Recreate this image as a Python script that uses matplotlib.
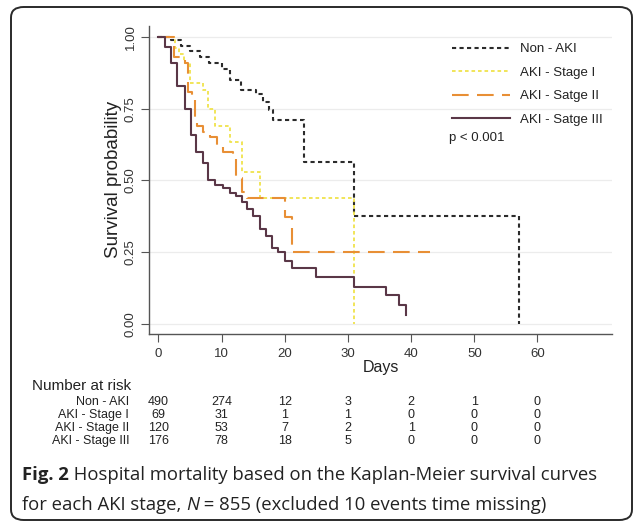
import numpy as np
import matplotlib
matplotlib.use('Agg')
import matplotlib.pyplot as plt
from matplotlib.patches import FancyBboxPatch
from matplotlib.transforms import blended_transform_factory

# Kaplan-Meier steps (days, survival)
t_non = [0, 2, 3.5, 5, 6.5, 8, 10, 11.3, 13, 15.5, 16.5, 17.5, 18.2, 23, 31, 57]
s_non = [1.0, 0.99, 0.97, 0.95, 0.93, 0.91, 0.89, 0.85, 0.815, 0.80, 0.775, 0.745, 0.71, 0.565, 0.375, 0.0]

t_st1 = [0, 2.6, 3.2, 4, 5, 7, 7.8, 9, 11.3, 13.2, 16, 31]
s_st1 = [1.0, 0.96, 0.94, 0.91, 0.84, 0.815, 0.75, 0.69, 0.635, 0.53, 0.44, 0.0]

t_st2 = [0, 2.5, 4.2, 4.6, 5.3, 5.8, 6.1, 7, 8.1, 9.2, 10.2, 11.8, 12.2, 13.2, 14, 20, 21.1, 43]
s_st2 = [1.0, 0.93, 0.91, 0.81, 0.78, 0.72, 0.69, 0.67, 0.65, 0.62, 0.60, 0.58, 0.51, 0.46, 0.44, 0.373, 0.25, 0.25]

t_st3 = [0, 1, 2, 3, 4.2, 5.1, 6, 7, 7.8, 8.9, 10.2, 11.3, 12.3, 13.2, 14, 15, 16, 17.1, 17.9, 19, 20, 21.1, 25, 31, 36, 38, 39.2]
s_st3 = [1.0, 0.965, 0.91, 0.83, 0.75, 0.66, 0.60, 0.56, 0.50, 0.485, 0.475, 0.455, 0.445, 0.425, 0.40, 0.375, 0.33, 0.305,
         0.265, 0.25, 0.22, 0.195, 0.165, 0.13, 0.10, 0.066, 0.03]

labels = ['Non - AKI', 'AKI - Stage I', 'AKI - Satge II', 'AKI - Satge III']
risk_labels = ['Non - AKI', 'AKI - Stage I', 'AKI - Stage II', 'AKI - Stage III']
risk_days = [0, 10, 20, 30, 40, 50, 60]
risk_non = [490, 274, 12, 3, 2, 1, 0]
risk_st1 = [69, 31, 1, 1, 0, 0, 0]
risk_st2 = [120, 53, 7, 2, 1, 0, 0]
risk_st3 = [176, 78, 18, 5, 0, 0, 0]

plt.rcParams['font.family'] = ['Liberation Sans', 'DejaVu Sans']

W, H = 634, 525
fig = plt.figure(figsize=(W / 100, H / 100), dpi=100)

# rounded frame around the whole figure
fig.patches.append(FancyBboxPatch((11 / W, 5 / H), 621 / W, 513 / H,
                                  boxstyle='round,pad=0,rounding_size=0.02',
                                  transform=fig.transFigure, fill=False,
                                  ec='#2a2a2a', lw=1.4))

ax = fig.add_axes([149 / W, 191 / H, 463 / W, 308.5 / H])

ax.step(t_non, s_non, where='post', color='#2b2b2b', lw=1.5, dashes=(2, 1.6), label=labels[0])
ax.step(t_st1, s_st1, where='post', color='#f0e34c', lw=1.3, dashes=(2, 1.6), label=labels[1])
ax.step(t_st2, s_st2, where='post', color='#e88f35', lw=1.5, dashes=(8, 4), label=labels[2])
ax.step(t_st3, s_st3, where='post', color='#5a3747', lw=1.5, label=labels[3])

ax.set_xlim(-1.5, 71.8)
ax.set_ylim(-0.035, 1.04)
ax.set_xticks([0, 10, 20, 30, 40, 50, 60])
ax.set_yticks([0, 0.25, 0.5, 0.75, 1.0])
ax.set_yticklabels(['0.00', '0.25', '0.50', '0.75', '1.00'], rotation=90, va='center')
ax.yaxis.grid(True, color='#ececec', lw=0.9)
ax.set_axisbelow(True)
for sp in ['top', 'right']:
    ax.spines[sp].set_visible(False)
for sp in ['left', 'bottom']:
    ax.spines[sp].set_color('#555555')
    ax.spines[sp].set_linewidth(1.0)
ax.tick_params(direction='out', length=6, color='#555555', labelsize=9.5, labelcolor='#333333')
ax.tick_params(axis='x', pad=4)
ax.tick_params(axis='y', pad=3)
ax.set_xlabel('Days', fontsize=11.5, labelpad=0, color='#222222')
ax.set_ylabel('Survival probability', fontsize=13.5, labelpad=2, color='#222222')

leg = fig.legend(loc='upper left', bbox_to_anchor=(452 / W, 1 - 43 / H), frameon=False,
                 fontsize=9.5, handlelength=4.4, handletextpad=0.75, labelspacing=0.85,
                 borderpad=0, borderaxespad=0)
for txt in leg.get_texts():
    txt.set_color('#222222')
fig.text(449 / W, 1 - 138 / H, 'p < 0.001', fontsize=9.5, va='center', color='#222222')

# number at risk table
fig.text(32 / W, 1 - 386 / H, 'Number at risk', fontsize=11, va='center', color='#222222')
trans = blended_transform_factory(ax.transData, fig.transFigure)
rows_y = [402, 415, 428, 441]
for lab, vals, ry in zip(risk_labels, [risk_non, risk_st1, risk_st2, risk_st3], rows_y):
    fig.text(129 / W, 1 - ry / H, lab, fontsize=9, ha='right', va='center', color='#222222')
    for d, v in zip(risk_days, vals):
        ax.text(d, 1 - ry / H, str(v), transform=trans, fontsize=9, ha='center', va='center',
                color='#222222', clip_on=False)

# caption with mixed styles
renderer = fig.canvas.get_renderer()
cap_font = ['Open Sans', 'DejaVu Sans']


def put_runs(runs, x, y):
    for s, weight, style in runs:
        t = fig.text(x, y, s, fontsize=13.3, family=cap_font, fontweight=weight,
                     fontstyle=style, va='baseline', color='#222222')
        bb = t.get_window_extent(renderer=renderer)
        x = bb.x1 / fig.bbox.width


put_runs([('Fig. 2', 'bold', 'normal'),
          ('\u00a0Hospital mortality based on the Kaplan-Meier survival curves', 'normal', 'normal')],
         22 / W, 1 - 480 / H)
put_runs([('for each AKI stage,\u00a0', 'normal', 'normal'), ('N', 'normal', 'italic'),
          ('\u00a0=\u00a0855 (excluded 10 events time missing)', 'normal', 'normal')],
         22 / W, 1 - 510 / H)

fig.savefig('out.png', dpi=100)
